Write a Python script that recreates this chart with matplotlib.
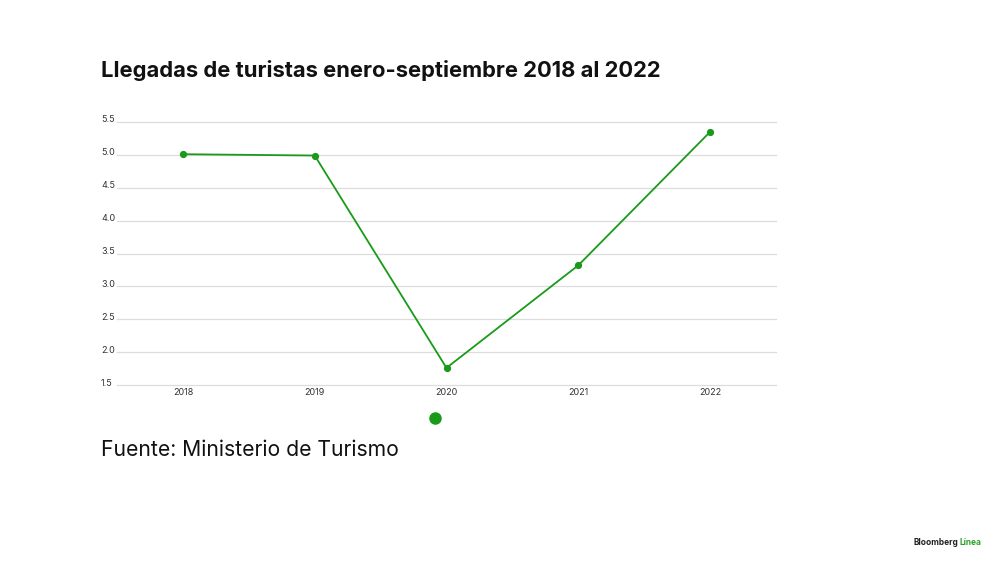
import matplotlib
matplotlib.use("Agg")
import matplotlib.pyplot as plt
import matplotlib.transforms as mtransforms

# Data (millones de llegadas)
years = ["2018", "2019", "2020", "2021", "2022"]
arrivals = [5.01, 4.99, 1.76, 3.32, 5.35]
y_ticks = [1.5, 2.0, 2.5, 3.0, 3.5, 4.0, 4.5, 5.0, 5.5]

GREEN = "#1a9a1a"
W, H = 1000, 562

fig = plt.figure(figsize=(W / 100, H / 100), dpi=100)
fig.patch.set_facecolor("white")

# axes placed in pixel coordinates: x 117..776, y 122..385 (top-down)
ax = fig.add_axes([117 / W, 1 - 385 / H, (776 - 117) / W, (385 - 122) / H])
x = list(range(len(years)))
ax.plot(x, arrivals, color=GREEN, lw=1.3, marker="o", ms=4.2, zorder=3)

ax.set_xlim(-0.5, len(years) - 0.5)
ax.set_ylim(1.5, 5.5)
ax.set_yticks(y_ticks)
ax.set_yticklabels([f"{v:.1f}" for v in y_ticks], fontsize=6.5, color="#333333",
                   family="Inter", ha="left")
ax.set_xticks(x)
ax.set_xticklabels(years, fontsize=6.5, color="#333333", family="Inter")
ax.tick_params(axis="y", length=0, pad=11.5)
ax.tick_params(axis="x", length=0, pad=2.5)
ax.grid(axis="y", color="#dddddd", lw=0.9)
for gl in ax.get_ygridlines():
    gl.set_clip_on(False)
ax.set_axisbelow(True)
for s in ax.spines.values():
    s.set_visible(False)

# nudge y labels a little above their gridlines
up = mtransforms.ScaledTranslation(0, 3 / 100, fig.dpi_scale_trans)
for lab in ax.get_yticklabels():
    lab.set_transform(lab.get_transform() + up)

# Title, legend dot, source, brand
fig.text(101 / W, 1 - 77 / H, "Llegadas de turistas enero-septiembre 2018 al 2022",
         fontsize=15.8, fontweight="bold", family="Inter", color="#111111",
         va="baseline", ha="left")
fig.lines.append(plt.Line2D([435 / W], [1 - 418 / H], transform=fig.transFigure,
                            marker="o", ms=8, color=GREEN, lw=0))
fig.text(101 / W, 1 - 456 / H, "Fuente: Ministerio de Turismo", fontsize=15.2,
         family="Inter", color="#111111", va="baseline", ha="left")
fig.text(914 / W, 1 - 545 / H, "Bloomberg", fontsize=6, fontweight="bold",
         family="Inter", color="#222222", va="baseline", ha="left")
fig.text(959 / W, 1 - 545 / H, "Línea", fontsize=6, fontweight="bold",
         family="Inter", color="#2aa22a", va="baseline", ha="left")

fig.savefig("out.png", dpi=100, facecolor="white")
